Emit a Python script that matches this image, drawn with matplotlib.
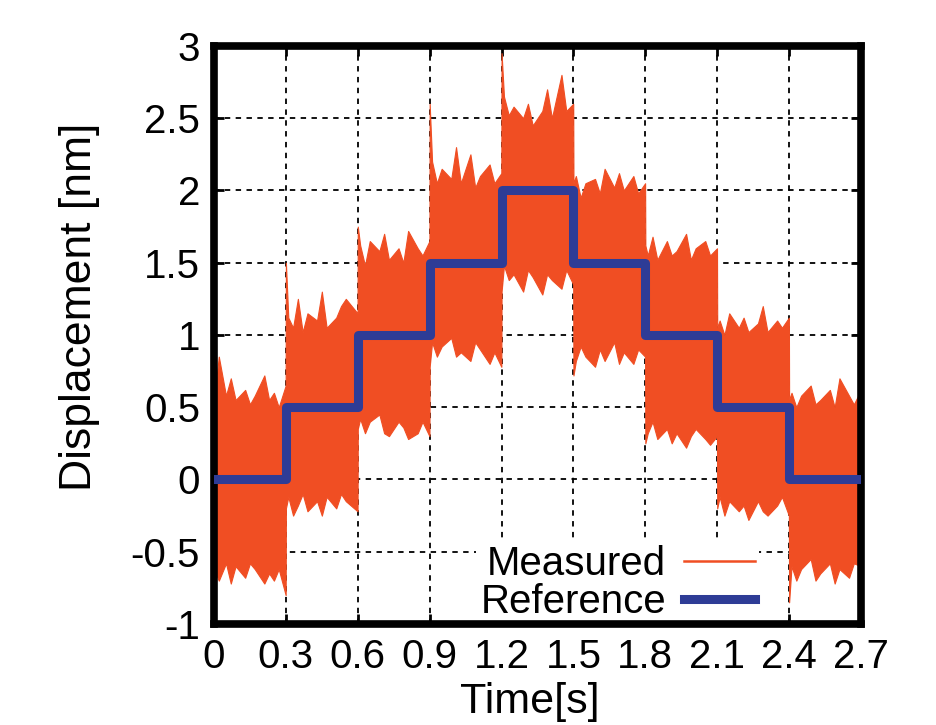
import numpy as np
import matplotlib
matplotlib.use("Agg")
import matplotlib.pyplot as plt

plt.rcParams['font.family'] = ['Liberation Sans', 'DejaVu Sans']

# reference staircase (step start times and levels)
ref_t = [0.0, 0.3, 0.6, 0.9, 1.2, 1.5, 1.8, 2.1, 2.4, 2.7]
ref_y = [0.0, 0.5, 1.0, 1.5, 2.0, 1.5, 1.0, 0.5, 0.0, 0.0]

# measured signal envelope (upper / lower bound)
meas_t = [0.00, 0.02, 0.05, 0.07, 0.09, 0.13, 0.15, 0.17, 0.21, 0.23, 0.25, 0.27, 0.299,
          0.30, 0.31, 0.33, 0.35, 0.37, 0.39, 0.43, 0.45, 0.47, 0.51, 0.53, 0.55, 0.599,
          0.60, 0.61, 0.63, 0.65, 0.69, 0.71, 0.73, 0.77, 0.79, 0.81, 0.85, 0.87, 0.899,
          0.90, 0.91, 0.93, 0.95, 0.99, 1.01, 1.03, 1.07, 1.09, 1.11, 1.15, 1.17, 1.199,
          1.20, 1.21, 1.23, 1.25, 1.29, 1.31, 1.33, 1.37, 1.39, 1.41, 1.45, 1.47, 1.499,
          1.50, 1.51, 1.53, 1.55, 1.59, 1.61, 1.63, 1.67, 1.69, 1.71, 1.75, 1.77, 1.799,
          1.80, 1.81, 1.83, 1.85, 1.89, 1.91, 1.93, 1.97, 1.99, 2.01, 2.05, 2.07, 2.099,
          2.10, 2.11, 2.13, 2.15, 2.19, 2.21, 2.23, 2.27, 2.29, 2.31, 2.35, 2.37, 2.399,
          2.40, 2.41, 2.43, 2.45, 2.49, 2.51, 2.53, 2.57, 2.59, 2.61, 2.65, 2.67, 2.70]
meas_hi = [0.55, 0.85, 0.58, 0.70, 0.55, 0.62, 0.52, 0.58, 0.72, 0.55, 0.60, 0.50, 0.65,
           1.50, 1.12, 1.05, 1.25, 1.02, 1.15, 1.10, 1.30, 1.05, 1.12, 1.20, 1.25, 1.15,
           1.75, 1.62, 1.48, 1.65, 1.58, 1.70, 1.52, 1.60, 1.50, 1.72, 1.60, 1.55, 1.65,
           2.60, 2.20, 2.05, 2.15, 2.08, 2.30, 2.05, 2.25, 2.02, 2.10, 2.18, 2.05, 2.12,
           2.95, 2.65, 2.52, 2.58, 2.50, 2.60, 2.45, 2.55, 2.70, 2.50, 2.80, 2.55, 2.60,
           2.05, 2.10, 1.95, 2.05, 2.08, 1.98, 2.15, 2.02, 2.12, 2.00, 2.10, 1.98, 2.05,
           1.62, 1.55, 1.68, 1.52, 1.65, 1.55, 1.58, 1.70, 1.52, 1.60, 1.65, 1.55, 1.60,
           1.05, 1.10, 1.00, 1.15, 1.05, 1.12, 1.02, 1.08, 1.20, 1.02, 1.10, 1.05, 1.12,
           0.55, 0.60, 0.50, 0.58, 0.65, 0.52, 0.55, 0.62, 0.50, 0.70, 0.58, 0.52, 0.62]
meas_lo = [-0.62, -0.70, -0.58, -0.72, -0.60, -0.68, -0.58, -0.62, -0.72, -0.65, -0.70, -0.62, -0.80,
           -0.20, -0.12, -0.25, -0.18, -0.10, -0.22, -0.15, -0.25, -0.12, -0.20, -0.10, -0.15, -0.22,
           0.35, 0.42, 0.32, 0.40, 0.45, 0.32, 0.30, 0.40, 0.36, 0.28, 0.32, 0.40, 0.30,
           0.78, 0.95, 0.85, 0.92, 0.98, 0.85, 0.88, 0.82, 0.95, 0.90, 0.80, 0.88, 0.78,
           1.30, 1.48, 1.38, 1.42, 1.30, 1.45, 1.40, 1.28, 1.42, 1.38, 1.32, 1.45, 1.35,
           0.72, 0.82, 0.92, 0.85, 0.78, 0.90, 0.82, 0.95, 0.80, 0.88, 0.80, 0.90, 0.85,
           0.25, 0.32, 0.40, 0.28, 0.35, 0.25, 0.32, 0.22, 0.30, 0.35, 0.28, 0.24, 0.30,
           -0.20, -0.12, -0.25, -0.15, -0.22, -0.18, -0.28, -0.15, -0.22, -0.25, -0.18, -0.12, -0.25,
           -0.85, -0.60, -0.70, -0.62, -0.55, -0.70, -0.65, -0.58, -0.72, -0.62, -0.68, -0.58, -0.60]

x_ticks = [0, 0.3, 0.6, 0.9, 1.2, 1.5, 1.8, 2.1, 2.4, 2.7]
x_labels = ["0", "0.3", "0.6", "0.9", "1.2", "1.5", "1.8", "2.1", "2.4", "2.7"]
y_ticks = [-1, -0.5, 0, 0.5, 1, 1.5, 2, 2.5, 3]
y_labels = ["-1", "-0.5", "0", "0.5", "1", "1.5", "2", "2.5", "3"]

orange = "#F04E23"
blue = "#2E3C96"

fig = plt.figure(figsize=(9.37, 7.25), dpi=100)
ax = fig.add_axes([0.2284, 0.1393, 0.6905, 0.7973])

ax.fill_between(meas_t, meas_lo, meas_hi, color=orange, linewidth=0.8,
                edgecolor=orange, zorder=2)
ax.plot([], [], color=orange, lw=1.8, label="Measured")
ax.step(ref_t, ref_y, where="post", color=blue, lw=6.5, zorder=3,
        label="Reference")

ax.set_xlim(0, 2.7)
ax.set_ylim(-1, 3)
ax.set_xticks(x_ticks)
ax.set_xticklabels(x_labels)
ax.set_yticks(y_ticks)
ax.set_yticklabels(y_labels)
ax.grid(True, color="black", linestyle=(0, (3, 3)), linewidth=1.3, zorder=1)
ax.set_axisbelow(True)

for s in ax.spines.values():
    s.set_linewidth(5.5)
ax.tick_params(direction="in", length=7, width=2, labelsize=29,
               top=True, right=True, pad=10)

ax.set_xlabel("Time[s]", fontsize=31)
ax.xaxis.set_label_coords(0.488, -0.1)
ax.set_ylabel("Displacement [nm]", fontsize=32)
ax.yaxis.set_label_coords(-0.176, 0.548)

leg = ax.legend(loc="lower right", bbox_to_anchor=(0.842, -0.002), fontsize=29,
                markerfirst=False, frameon=True, fancybox=False,
                edgecolor="none", framealpha=1, handlelength=1.75,
                handletextpad=0.45, labelspacing=0.0, borderpad=0.1,
                borderaxespad=0.0)
leg.set_zorder(2.4)

fig.savefig("out.png", dpi=100)
